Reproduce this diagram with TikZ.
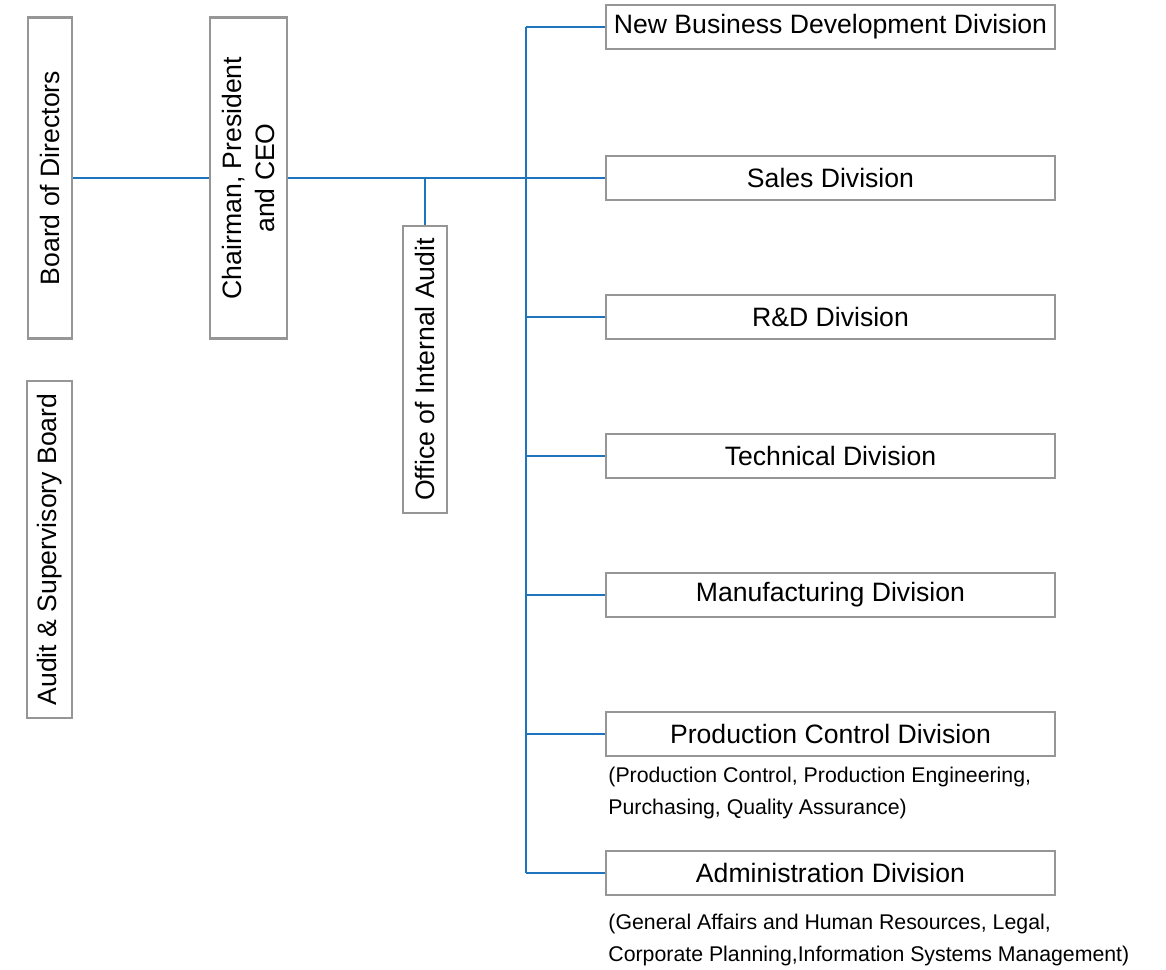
\documentclass[tikz,border=0pt]{standalone}
\usepackage{fontspec}
\setmainfont{Liberation Sans}
\definecolor{linkblue}{RGB}{30,117,190}
\definecolor{boxgray}{RGB}{150,150,150}
\tikzset{
  unit/.style={draw=boxgray,line width=1.1pt,fill=white,inner sep=0pt,align=center,
    font=\fontsize{13.3}{16.5}\selectfont},
  division/.style={unit,minimum width=224.5pt,minimum height=22pt},
  upright/.style={unit,rotate=90},
  note/.style={anchor=west,align=left,inner sep=0pt,font=\fontsize{10.65}{16}\selectfont},
  link/.style={draw=linkblue,line width=0.75pt}
}

\begin{document}
\begin{tikzpicture}[x=0.5pt,y=-0.5pt]
\useasboundingbox (0,0) rectangle (1166,969);
% left column
\node[upright,minimum width=160.5pt,minimum height=22pt] (board) at (50,178) {Board of Directors};
\node[upright,minimum width=168.5pt,minimum height=22.5pt] (asb) at (49.5,549.5) {Audit \& Supervisory Board};
\node[upright,minimum width=160.5pt,minimum height=38.5pt] (chair) at (248.5,178) {Chairman, President\\and CEO};
\node[upright,minimum width=143.5pt,minimum height=22pt] (audit) at (425,369.5) {Office of Internal Audit};
	% divisions
	\foreach \name/\y/\txt in {nbd/27/New Business Development Division,sales/178/Sales Division,rnd/317/R\&D Division,tech/456/Technical Division,mfg/595/Manufacturing Division,pcd/734/Production Control Division,adm/873/Administration Division} {
		\node[division] (\name) at (830.5,\y) {\txt};
		}
\node[note] (pcnote) at (608,793) {(Production Control, Production Engineering,\\Purchasing, Quality Assurance)};
\node[note] (admnote) at (608,940) {(General Affairs and Human Resources, Legal,\\Corporate Planning,Information Systems Management)};

\coordinate (trunk) at (526,0);
\draw[link] (board) -- (chair);
\draw[link] (chair) -- (sales);
\draw[link] (audit.east) -- (audit.east |- chair);
\draw[link] (nbd.west -| trunk) -- (adm.west -| trunk);
	\foreach \name in {nbd,rnd,tech,mfg,pcd,adm} {
		\draw[link] (\name.west) -- (\name.west -| trunk);
		}
\end{tikzpicture}
\end{document}
